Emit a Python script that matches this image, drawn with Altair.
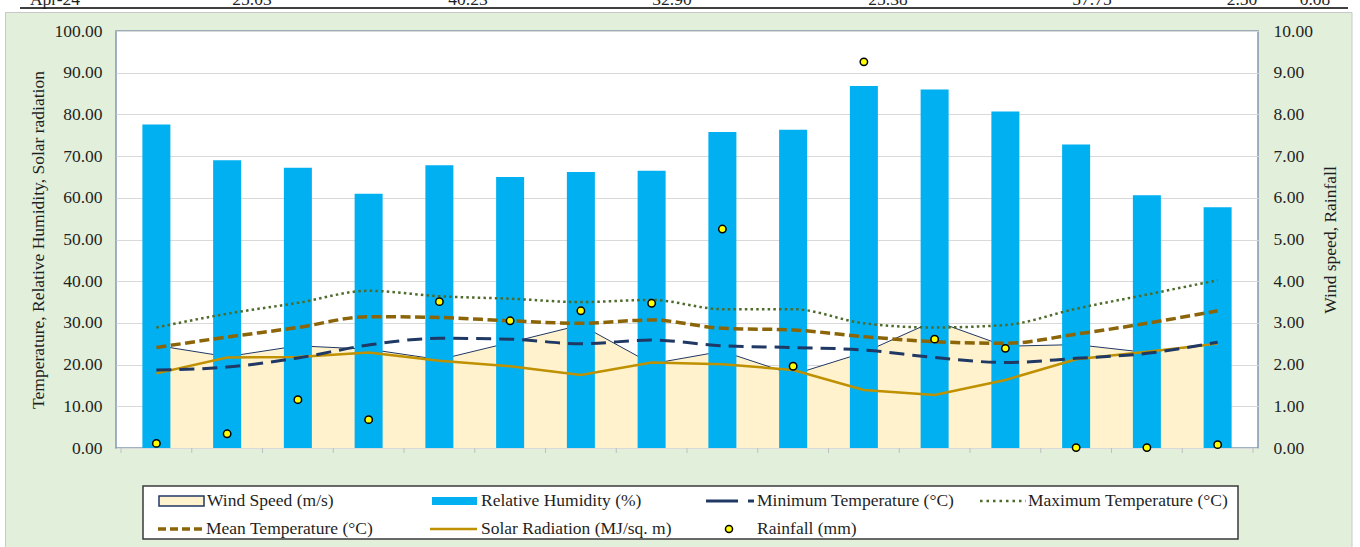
import altair as alt
import pandas as pd

# ---- monthly weather data -------------------------------------------------
months = ["Jan-23", "Feb-23", "Mar-23", "Apr-23", "May-23", "Jun-23", "Jul-23", "Aug-23",
          "Sep-23", "Oct-23", "Nov-23", "Dec-23", "Jan-24", "Feb-24", "Mar-24", "Apr-24"]
wind_speed = [2.46, 2.19, 2.45, 2.37, 2.12, 2.53, 2.95, 2.02,
              2.32, 1.76, 2.29, 3.05, 2.44, 2.48, 2.29, 2.50]
rel_humidity = [77.6, 69.0, 67.2, 61.0, 67.8, 65.0, 66.2, 66.5,
                75.8, 76.3, 86.8, 86.0, 80.7, 72.8, 60.6, 57.75]
temp_min = [18.7, 19.4, 21.6, 24.7, 26.3, 26.1, 25.0, 25.9,
            24.5, 24.1, 23.5, 21.7, 20.5, 21.5, 22.7, 25.38]
temp_max = [28.9, 32.2, 34.8, 37.7, 36.4, 35.8, 35.0, 35.5,
            33.3, 33.3, 29.9, 28.9, 29.5, 33.4, 36.8, 40.23]
temp_mean = [24.1, 26.6, 28.9, 31.5, 31.3, 30.5, 29.9, 30.7,
             28.7, 28.3, 26.7, 25.5, 25.1, 27.3, 29.9, 32.90]
solar_rad = [17.9, 21.7, 21.8, 22.9, 20.9, 19.6, 17.5, 20.5,
             20.1, 18.7, 13.9, 12.7, 16.3, 21.3, 23.1, 25.03]
rainfall = [0.11, 0.34, 1.16, 0.68, 3.51, 3.05, 3.29, 3.47,
            5.25, 1.96, 9.26, 2.61, 2.39, 0.01, 0.01, 0.08]

# last row of the table printed just above the figure
table_row = ["Apr-24", "25.03", "40.23", "32.90", "25.38", "57.75", "2.50", "0.08"]
table_row_x = [55, 252, 468, 672, 888, 1092, 1242, 1315]

left_title = "Temperature, Relative Humidity, Solar radiation"
right_title = "Wind speed, Rainfall"

# ---- layout ---------------------------------------------------------------
W, H = 1142, 417          # plot area
OX, OY = 116, 31          # plot origin on the page
SERIF = "Liberation Serif, Times New Roman, Tinos, DejaVu Serif, serif"
FS = 17.5
TXT = "#1f1f1f"

C_WIND = "#FFF2CC"
C_NAVY = "#203864"
C_RH = "#00B0F0"
C_MAX = "#4F6B2C"
C_MEAN = "#8B6508"
C_SOLAR = "#BF9000"
C_RAIN = "#FFFF00"

df = pd.DataFrame({
    "idx": list(range(len(months))),
    "month": months,
    "wind": wind_speed,
    "rh": rel_humidity,
    "tmin": temp_min,
    "tmax": temp_max,
    "tmean": temp_mean,
    "solar": solar_rad,
    "rain": rainfall,
})
one = pd.DataFrame({"k": [0]})


def px(v):
    return alt.value(v - OX)


def py(v):
    return alt.value(v - OY)


x_scale = alt.Scale(domain=[-0.5, len(months) - 0.5], nice=False, zero=False)
label_expr = "[" + ",".join(f"'{m}'" for m in months) + "][datum.value]"

x_axis = alt.Axis(values=list(range(len(months))), labelExpr=label_expr, labelAngle=0,
                  labelFont=SERIF, labelFontSize=16, labelFontWeight="bold",
                  labelColor=TXT, labelPadding=11, ticks=False, domain=False,
                  grid=False, title=None)

left_axis = alt.Axis(orient="left", values=list(range(0, 101, 10)), format=".2f",
                     grid=True, gridColor="#D9D9D9", gridWidth=1, domain=False,
                     ticks=False, labelFont=SERIF, labelFontSize=FS, labelColor=TXT,
                     labelPadding=14, title=left_title, titleFont=SERIF,
                     titleFontSize=FS, titleFontWeight="normal", titleColor=TXT,
                     titleAngle=270, titleX=38 - OX, titleY=H / 2,
                     titleAlign="center", titleBaseline="middle")

right_axis = alt.Axis(orient="right", values=list(range(0, 11)), format=".2f",
                      grid=False, domain=False, ticks=False, labelFont=SERIF,
                      labelFontSize=FS, labelColor=TXT, labelPadding=15,
                      title=right_title, titleFont=SERIF, titleFontSize=FS,
                      titleFontWeight="normal", titleColor=TXT, titleAngle=270,
                      titleX=1330 - (OX + W), titleY=H / 2,
                      titleAlign="center", titleBaseline="middle")


def X(axis=None):
    return alt.X("idx:Q", scale=x_scale, axis=axis)


def YL(field, axis=None):
    return alt.Y(f"{field}:Q", scale=alt.Scale(domain=[0, 100], nice=False, zero=True), axis=axis)


def YR(field, axis=None):
    return alt.Y(f"{field}:Q", scale=alt.Scale(domain=[0, 10], nice=False, zero=True), axis=axis)


layers = []

# ---- page furniture outside the green panel --------------------------------
layers.append(alt.Chart(one).mark_rect(color="white").encode(
    x=px(0), x2=px(1360), y=py(0), y2=py(12)))
layers.append(alt.Chart(one).mark_rect(color="white").encode(
    x=px(0), x2=px(5), y=py(0), y2=py(547)))
layers.append(alt.Chart(one).mark_rect(color="white").encode(
    x=px(1352), x2=px(1360), y=py(0), y2=py(547)))
layers.append(alt.Chart(one).mark_rect(fill=None, stroke="#C8C8C8", strokeWidth=1).encode(
    x=px(5.5), x2=px(1352), y=py(12.5), y2=py(560)))
layers.append(alt.Chart(one).mark_rule(color="black", strokeWidth=1.5).encode(
    x=px(20), x2=px(1348), y=py(8)))
for label, lx in zip(table_row, table_row_x):
    layers.append(alt.Chart(one).mark_text(
        text=label, font=SERIF, fontSize=FS, color=TXT, align="center",
        baseline="alphabetic").encode(x=px(lx), y=py(5)))

# ---- data layers -----------------------------------------------------------
base = alt.Chart(df)

# wind speed area (secondary axis) with its thin outline
layers.append(base.mark_area(color=C_WIND, opacity=1).encode(
    x=X(), y=YR("wind", right_axis)))
layers.append(base.mark_line(color=C_NAVY, strokeWidth=1).encode(
    x=X(), y=YR("wind")))

# relative humidity columns (primary axis)
layers.append(base.mark_bar(color=C_RH, size=28, orient="vertical").encode(
    x=X(x_axis), y=YL("rh", left_axis)))

# temperature and radiation lines
layers.append(base.mark_line(color=C_SOLAR, strokeWidth=2.5).encode(
    x=X(), y=YL("solar")))
layers.append(base.mark_line(color=C_MAX, strokeWidth=2.5, strokeDash=[2.5, 3.2],
                             interpolate="monotone").encode(x=X(), y=YL("tmax")))
layers.append(base.mark_line(color=C_MEAN, strokeWidth=3.5, strokeDash=[10, 4.5],
                             interpolate="monotone").encode(x=X(), y=YL("tmean")))
layers.append(base.mark_line(color=C_NAVY, strokeWidth=3, strokeDash=[15, 8],
                             interpolate="monotone").encode(x=X(), y=YL("tmin")))

# rainfall markers (secondary axis)
layers.append(base.mark_point(shape="circle", filled=True, fill=C_RAIN, stroke="black",
                              strokeWidth=1.5, size=55, opacity=1).encode(
    x=X(), y=YR("rain")))

# small category ticks under the axis
bounds = pd.DataFrame({"b": [i - 0.5 for i in range(len(months) + 1)]})
layers.append(alt.Chart(bounds).mark_rule(color="#BFBFBF", strokeWidth=1).encode(
    x=alt.X("b:Q", scale=x_scale, axis=None), y=alt.value(H), y2=alt.value(H + 5)))

# ---- legend ----------------------------------------------------------------
layers.append(alt.Chart(one).mark_rect(fill="white", stroke="#3A3A3A", strokeWidth=1.5).encode(
    x=px(143), x2=px(1238), y=py(486), y2=py(539)))

ROW1, ROW2 = 501, 529
layers.append(alt.Chart(one).mark_rect(fill=C_WIND, stroke=C_NAVY, strokeWidth=1.5).encode(
    x=px(159), x2=px(204), y=py(496), y2=py(506)))
layers.append(alt.Chart(one).mark_rect(fill=C_RH).encode(
    x=px(432), x2=px(477), y=py(497), y2=py(505)))
layers.append(alt.Chart(one).mark_rule(color=C_NAVY, strokeWidth=3, strokeDash=[32, 10]).encode(
    x=px(706), x2=px(754), y=py(ROW1)))
layers.append(alt.Chart(one).mark_rule(color=C_MAX, strokeWidth=2.5, strokeDash=[2.5, 4]).encode(
    x=px(980), x2=px(1026), y=py(ROW1)))
layers.append(alt.Chart(one).mark_rule(color=C_MEAN, strokeWidth=3.5, strokeDash=[8, 4]).encode(
    x=px(158), x2=px(205), y=py(ROW2)))
layers.append(alt.Chart(one).mark_rule(color=C_SOLAR, strokeWidth=2.5).encode(
    x=px(430), x2=px(477), y=py(ROW2)))
layers.append(alt.Chart(one).mark_point(shape="circle", filled=True, fill=C_RAIN, stroke="black",
                                        strokeWidth=1.5, size=50, opacity=1).encode(
    x=px(729), y=py(ROW2)))

legend_text = [
    ("Wind Speed (m/s)", 207, ROW1),
    ("Relative Humidity (%)", 481, ROW1),
    ("Minimum Temperature (\u00b0C)", 757, ROW1),
    ("Maximum Temperature (\u00b0C)", 1028, ROW1),
    ("Mean Temperature (\u00b0C)", 206, ROW2),
    ("Solar Radiation (MJ/sq. m)", 481, ROW2),
    ("Rainfall (mm)", 757, ROW2),
]
for label, lx, ly in legend_text:
    layers.append(alt.Chart(one).mark_text(
        text=label, font=SERIF, fontSize=FS, color=TXT, align="left",
        baseline="middle").encode(x=px(lx), y=py(ly)))

chart = (
    alt.layer(*layers)
    .resolve_scale(y="independent")
    .properties(
        width=W, height=H,
        autosize=alt.AutoSizeParams(type="none"),
        padding={"left": OX, "top": OY, "right": 1360 - OX - W, "bottom": 547 - OY - H},
    )
    .configure(background="#E2EFDA")
    .configure_view(fill="white", stroke="#8497B0", strokeWidth=1.5)
)

chart.save("out.html", embed_options={"renderer": "svg", "actions": False})
